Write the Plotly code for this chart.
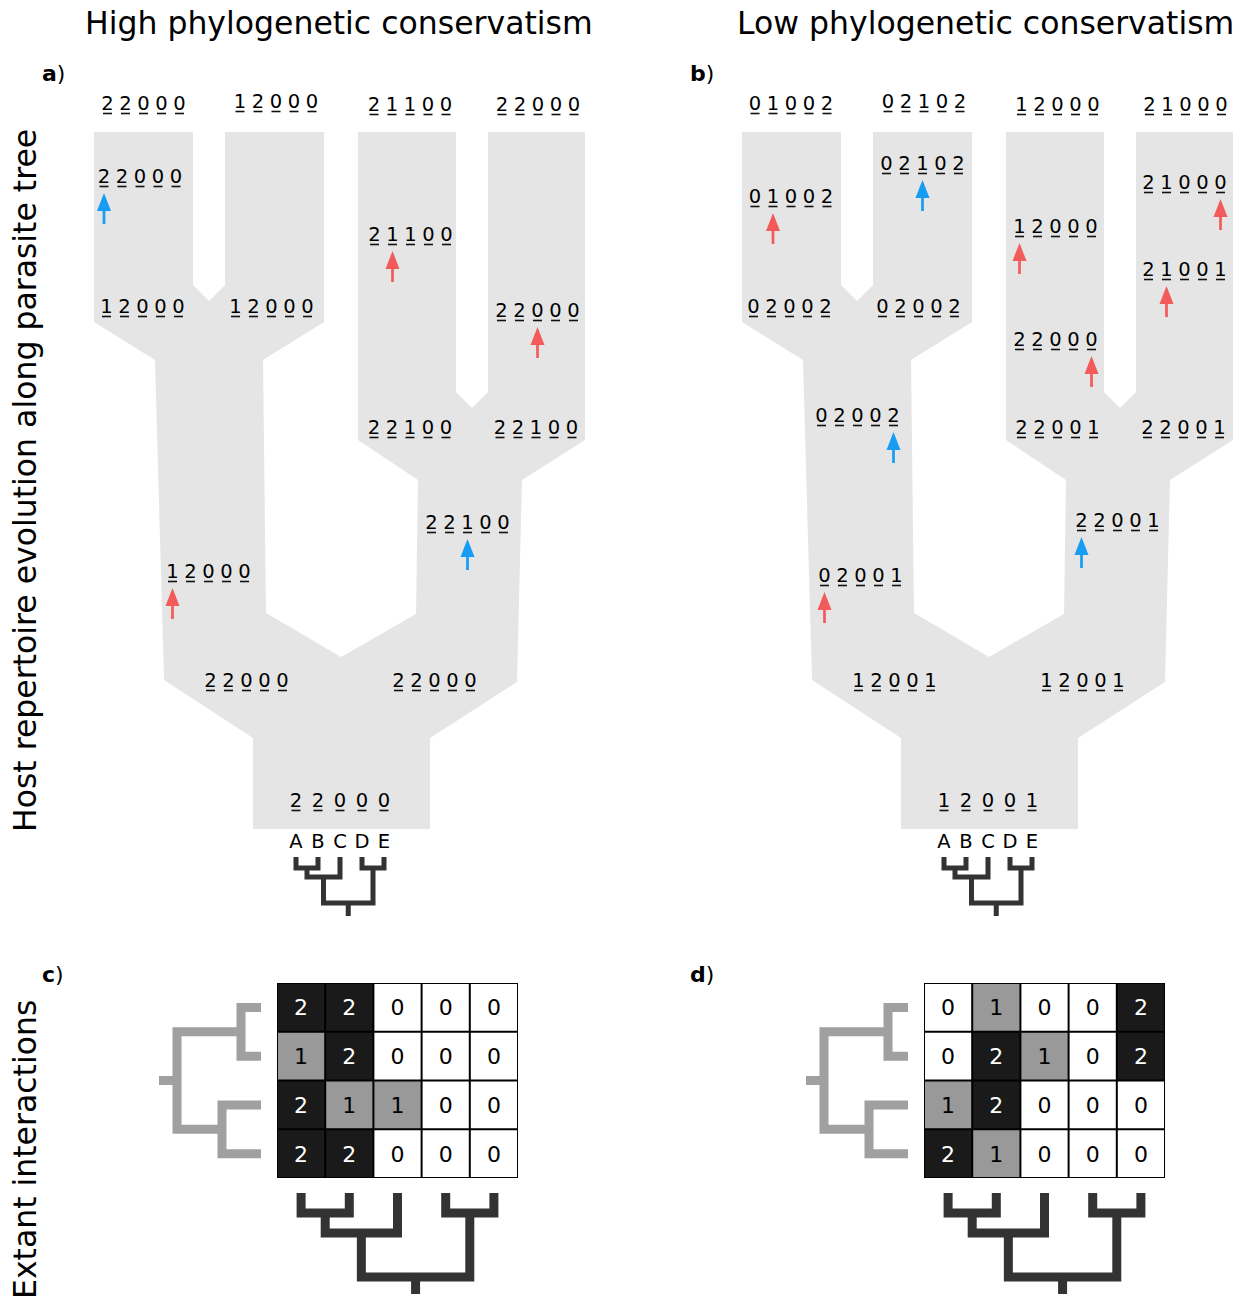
import plotly.graph_objects as go

# ---------------- data ----------------
hosts = ["A", "B", "C", "D", "E"]

# Panel a (high phylogenetic conservatism): host repertoires along the parasite tree
# first four = extant parasites (tips), last = root
a_codes = ["22000", "12000", "21100", "22000",
           "22000", "12000", "12000", "21100", "22000",
           "22100", "22100", "22100", "12000",
           "22000", "22000", "22000"]
a_event_label = [4, 7, 8, 11, 12]
a_event_digit = [0, 1, 2, 2, 0]
a_event_kind = ["gain", "loss", "loss", "gain", "loss"]

# Panel b (low phylogenetic conservatism)
b_codes = ["01002", "02102", "12000", "21000",
           "01002", "02102", "02002", "02002", "12000", "21000", "21001", "22000",
           "22001", "22001", "02002", "22001", "02001",
           "12001", "12001", "12001"]
b_event_label = [4, 5, 8, 9, 10, 11, 14, 15, 16]
b_event_digit = [1, 2, 0, 4, 1, 4, 4, 0, 0]
b_event_kind = ["loss", "gain", "loss", "loss", "loss", "loss", "gain", "gain", "loss"]

N_TIPS = 4
titles = ["High phylogenetic conservatism", "Low phylogenetic conservatism"]
ytitles = ["Host repertoire evolution along parasite tree", "Extant interactions"]
panel_tags = ["a", "b", "c", "d"]

# ---------------- layout (pixel space) ----------------
W, H = 1238, 1299
FONT = "DejaVu Sans"
GREY_FILL = "#e5e5e5"
KIND_COLOR = {"gain": "#169cf2", "loss": "#f35b5b"}
DX_B = 648
DIGIT_STRIDE, ROOT_STRIDE = 18, 22
TEXT_DY = 2

a_label_pos = [(143.5, 103), (276, 101), (410, 104), (538, 104),
               (140, 176), (142.5, 306), (271.5, 306), (410.5, 234), (537.5, 310),
               (410, 427), (536, 427), (467.5, 522), (208.5, 571),
               (246.5, 680), (434.5, 680), (340, 800)]
b_label_pos = [(791, 103), (924, 101), (1057.5, 104), (1185.5, 104),
               (791, 196), (922.5, 163), (789.5, 306), (918.5, 306), (1055.5, 226),
               (1184.5, 182), (1184.5, 269), (1055.5, 339),
               (1057.5, 427), (1183.5, 427), (857.5, 415), (1117.5, 520), (860.5, 575),
               (894.5, 680), (1082.5, 680), (988, 800)]

outline = [(94, 132), (193, 132), (193, 285), (209, 301), (225, 285), (225, 132),
           (324, 132), (324, 322), (263, 360), (266, 613), (341, 657), (416, 614),
           (418, 480), (358, 440), (358, 132), (456, 132), (456, 392), (472, 408),
           (488, 392), (488, 132), (585, 132), (585, 440), (522, 480), (517, 682),
           (430, 738), (430, 829), (253, 829), (253, 738), (164, 680), (155, 360),
           (94, 322)]

fig = go.Figure()
shapes = []
annotations = []


def host_tree(xs, y_tip, y_pair, y_abc, y_root, y_stub, width, color):
    ab = (xs[0] + xs[1]) / 2
    de = (xs[3] + xs[4]) / 2
    abc = (ab + xs[2]) / 2
    root = (abc + de) / 2
    paths = [f"M{xs[0]},{y_tip} V{y_pair} H{xs[1]} V{y_tip}",
             f"M{xs[3]},{y_tip} V{y_pair} H{xs[4]} V{y_tip}",
             f"M{ab},{y_pair} V{y_abc} H{xs[2]} V{y_tip}",
             f"M{abc},{y_abc} V{y_root} H{de} V{y_pair}",
             f"M{root},{y_root} V{y_stub}"]
    for p in paths:
        shapes.append(dict(type="path", path=p, xref="x", yref="y",
                           line=dict(color=color, width=width), layer="above"))


def parasite_tree(ys, x_tip, x_p1, x_p2, x_root, x_stub, width, color):
    n1 = (ys[0] + ys[1]) / 2
    n2 = (ys[2] + ys[3]) / 2
    r = (n1 + n2) / 2
    paths = [f"M{x_tip},{ys[0]} H{x_p1} V{ys[1]} H{x_tip}",
             f"M{x_tip},{ys[2]} H{x_p2} V{ys[3]} H{x_tip}",
             f"M{x_p1},{n1} H{x_root} V{n2} H{x_p2}",
             f"M{x_root},{r} H{x_stub}"]
    for p in paths:
        shapes.append(dict(type="path", path=p, xref="x", yref="y",
                           line=dict(color=color, width=width), layer="above"))


def add_panel(codes, pos, ev_label, ev_digit, ev_kind, dx):
    # grey parasite tree
    path = "M" + " L".join(f"{x + dx},{y}" for x, y in outline) + " Z"
    shapes.append(dict(type="path", path=path, xref="x", yref="y",
                       fillcolor=GREY_FILL, line=dict(width=0), layer="below"))
    xs, ys, ts, ux, uy = [], [], [], [], []
    digit_x = {}
    for k, (code, (cx, cy)) in enumerate(zip(codes, pos)):
        stride = ROOT_STRIDE if k == len(codes) - 1 else DIGIT_STRIDE
        for i, ch in enumerate(code):
            x = cx + (i - 2) * stride
            digit_x[(k, i)] = x
            xs.append(x); ys.append(cy + TEXT_DY); ts.append(ch)
            ux += [x - 4.5, x + 4.5, None]
            uy += [cy + 10.5, cy + 10.5, None]
    fig.add_trace(go.Scatter(x=ux, y=uy, mode="lines", line=dict(color="#111", width=1.6),
                             hoverinfo="skip", showlegend=False))
    fig.add_trace(go.Scatter(x=xs, y=ys, text=ts, mode="text", textposition="middle center",
                             textfont=dict(family=FONT, size=19.5, color="#000"),
                             hoverinfo="skip", showlegend=False))
    # arrows
    for kind in ("gain", "loss"):
        sx, sy = [], []
        for lab, d, kd in zip(ev_label, ev_digit, ev_kind):
            if kd != kind:
                continue
            x = digit_x[(lab, d)]
            tip = pos[lab][1] + 17
            sx += [x, x, None]; sy += [tip + 12, tip + 31, None]
            shapes.append(dict(type="path", xref="x", yref="y",
                               path=f"M{x},{tip} L{x - 7},{tip + 18} L{x + 7},{tip + 18} Z",
                               fillcolor=KIND_COLOR[kind], line=dict(width=0), layer="above"))
        fig.add_trace(go.Scatter(x=sx, y=sy, mode="lines",
                                 line=dict(color=KIND_COLOR[kind], width=2.7),
                                 hoverinfo="skip", showlegend=False))
    # small host tree with letters
    lx = [296 + dx + 22 * i for i in range(5)]
    fig.add_trace(go.Scatter(x=lx, y=[843] * 5, text=hosts, mode="text",
                             textfont=dict(family=FONT, size=19.5, color="#000"),
                             hoverinfo="skip", showlegend=False))
    host_tree(lx, 857, 868, 877, 903, 916, 5, "#333333")


add_panel(a_codes, a_label_pos, a_event_label, a_event_digit, a_event_kind, 0)
add_panel(b_codes, b_label_pos, b_event_label, b_event_digit, b_event_kind, DX_B)

# ---------------- interaction matrices ----------------
MX0 = [277, 924]
MY0, CW, CH = 983, 48.2, 48.75
layout_axes = {}
for m, codes in enumerate([a_codes, b_codes]):
    ax = m + 2
    z = [[int(ch) for ch in code] for code in codes[:N_TIPS]]
    fig.add_trace(go.Heatmap(z=z, x=list(range(5)), y=list(range(N_TIPS)),
                             zmin=0, zmax=2, showscale=False, hoverinfo="skip",
                             colorscale=[[0, "#ffffff"], [0.25, "#ffffff"], [0.25, "#999999"],
                                         [0.75, "#999999"], [0.75, "#1a1a1a"], [1, "#1a1a1a"]],
                             xaxis=f"x{ax}", yaxis=f"y{ax}"))
    tx, ty, tt, tc = [], [], [], []
    for r, row in enumerate(z):
        for c, v in enumerate(row):
            tx.append(c); ty.append(r + 0.05); tt.append(str(v))
            tc.append("#ffffff" if v == 2 else "#000000")
    fig.add_trace(go.Scatter(x=tx, y=ty, text=tt, mode="text",
                             textfont=dict(family=FONT, size=22, color=tc),
                             hoverinfo="skip", showlegend=False,
                             xaxis=f"x{ax}", yaxis=f"y{ax}"))
    for i in range(6):
        shapes.append(dict(type="line", xref=f"x{ax}", yref=f"y{ax}",
                           x0=i - 0.5, x1=i - 0.5, y0=-0.5, y1=N_TIPS - 0.5,
                           line=dict(color="#000", width=2)))
    for j in range(N_TIPS + 1):
        shapes.append(dict(type="line", xref=f"x{ax}", yref=f"y{ax}",
                           x0=-0.5, x1=4.5, y0=j - 0.5, y1=j - 0.5,
                           line=dict(color="#000", width=2)))
    x0 = MX0[m]
    layout_axes[f"xaxis{ax}"] = dict(domain=[x0 / W, (x0 + 5 * CW) / W], range=[-0.5, 4.5],
                                     anchor=f"y{ax}", visible=False, fixedrange=True)
    layout_axes[f"yaxis{ax}"] = dict(domain=[1 - (MY0 + N_TIPS * CH) / H, 1 - MY0 / H],
                                     range=[N_TIPS - 0.5, -0.5], anchor=f"x{ax}",
                                     visible=False, fixedrange=True)
    col_x = [x0 + CW * (i + 0.5) for i in range(5)]
    row_y = [MY0 + CH * (j + 0.5) for j in range(N_TIPS)]
    host_tree(col_x, 1193, 1213, 1233, 1277, 1294, 9, "#333333")
    parasite_tree(row_y, x0 - 16, x0 - 36, x0 - 55, x0 - 100, x0 - 118, 9, "#a0a0a0")

# ---------------- texts ----------------
for t, cx in zip(titles, [339, 985]):
    annotations.append(dict(text=t, x=cx, y=23, xref="x", yref="y", showarrow=False,
                            font=dict(family=FONT, size=31.5, color="#000")))
for t, cy in zip(ytitles, [481, 1150]):
    annotations.append(dict(text=t, x=25, y=cy, xref="x", yref="y", showarrow=False,
                            textangle=-90, font=dict(family=FONT, size=31.5, color="#000")))
for tag, (px, py) in zip(panel_tags, [(53, 73), (702, 73), (53, 974), (702, 974)]):
    annotations.append(dict(text=f"<b>{tag}</b>)", x=px, y=py, xref="x", yref="y",
                            showarrow=False, font=dict(family=FONT, size=22, color="#000")))

fig.update_layout(
    width=W, height=H, margin=dict(l=0, r=0, t=0, b=0),
    paper_bgcolor="white", plot_bgcolor="white",
    xaxis=dict(range=[0, W], domain=[0, 1], visible=False, fixedrange=True),
    yaxis=dict(range=[H, 0], domain=[0, 1], visible=False, fixedrange=True),
    shapes=shapes, annotations=annotations, showlegend=False,
    **layout_axes,
)

fig.write_html("out.html", config={"displayModeBar": False},
               post_script="document.body.style.margin='0';document.body.style.overflow='hidden';")
